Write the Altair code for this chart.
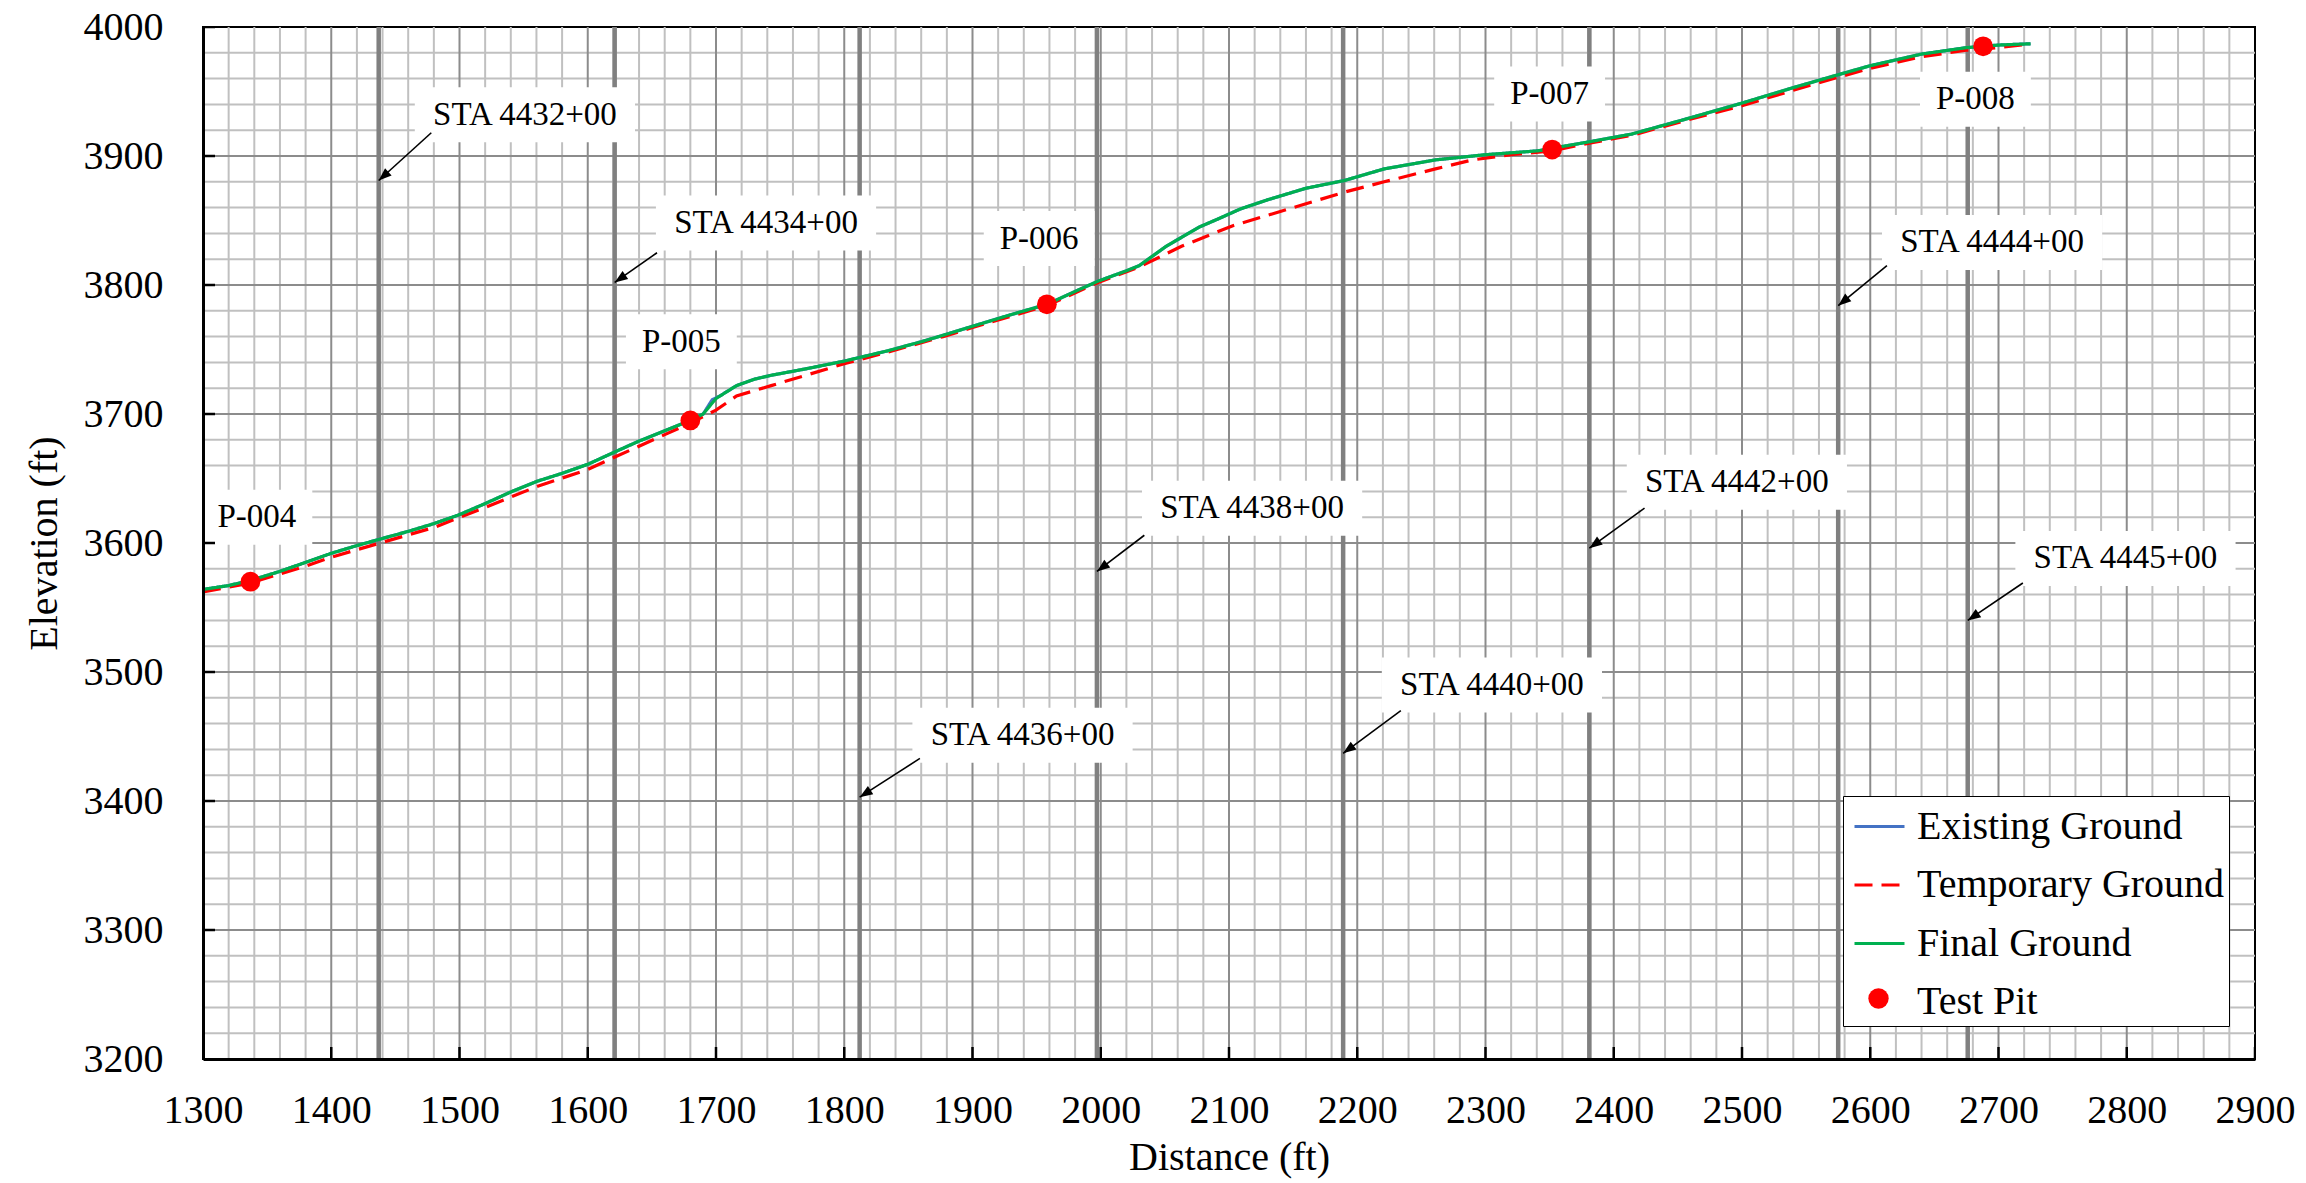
import math
import altair as alt
import pandas as pd

FONT = "Liberation Serif"
X_DOMAIN = [1300, 2900]
Y_DOMAIN = [3200, 4000]
PLOT_W, PLOT_H = 2052, 1032
KX = PLOT_W / (X_DOMAIN[1] - X_DOMAIN[0])
KY = PLOT_H / (Y_DOMAIN[1] - Y_DOMAIN[0])

# ---------------- data ----------------
final_dist = [1300, 1320, 1337, 1360, 1380, 1400, 1420, 1438, 1460, 1480,
              1500, 1521, 1541, 1561, 1580, 1600, 1622, 1640, 1660, 1680,
              1690, 1700, 1716, 1730, 1743, 1770, 1800, 1834, 1860, 1877,
              1900, 1930, 1958, 1980, 1998, 2020, 2030, 2051, 2077, 2091,
              2109, 2130, 2160, 2190, 2221, 2261, 2300, 2341, 2352, 2381,
              2414, 2454, 2500, 2540, 2575, 2600, 2640, 2675, 2700, 2725]
final_elev = [3564, 3567, 3571, 3578, 3585, 3592, 3598, 3603, 3609, 3615,
              3622, 3631, 3640, 3648, 3654, 3661, 3671, 3679, 3687, 3695,
              3700, 3712, 3722, 3727, 3730, 3735, 3741, 3749, 3756, 3761,
              3768, 3777, 3785, 3795, 3803, 3811, 3815, 3830, 3845, 3851,
              3859, 3866, 3875, 3881, 3890, 3897, 3901, 3904, 3906, 3911,
              3917, 3928, 3941, 3953, 3963, 3970, 3979, 3984, 3986, 3987]

exist_dist = [1300, 1320, 1337, 1360, 1380, 1400, 1420, 1438, 1460, 1480,
              1500, 1521, 1541, 1561, 1580, 1600, 1622, 1640, 1660, 1680,
              1690, 1697, 1703, 1716, 1730, 1743, 1770, 1800, 1834, 1860, 1877,
              1900, 1930, 1958, 1980, 1998, 2020, 2030, 2051, 2077, 2091,
              2109, 2130, 2160, 2190, 2221, 2261, 2300, 2341, 2352, 2381,
              2414, 2454, 2500, 2540, 2575, 2600, 2640, 2675, 2700, 2725]
exist_elev = [3564, 3567, 3571, 3578, 3585, 3592, 3598, 3603, 3609, 3615,
              3622, 3631, 3640, 3648, 3654, 3661, 3671, 3679, 3687, 3695,
              3700, 3711, 3714, 3722, 3727, 3730, 3735, 3741, 3749, 3756, 3761,
              3768, 3777, 3785, 3795, 3803, 3811, 3815, 3830, 3845, 3851,
              3859, 3866, 3875, 3881, 3890, 3897, 3901, 3904, 3906, 3911,
              3917, 3928, 3941, 3953, 3963, 3970, 3979, 3984, 3986, 3987]

temp_dist = [1300, 1337, 1360, 1380, 1400, 1438, 1480, 1521, 1561, 1600,
             1622, 1660, 1680, 1700, 1716, 1743, 1770, 1800, 1834, 1877,
             1900, 1958, 1998, 2030, 2063, 2103, 2140, 2160, 2190, 2221,
             2261, 2290, 2320, 2352, 2381, 2414, 2454, 2500, 2540, 2575,
             2600, 2640, 2675, 2700, 2725]
temp_elev = [3562, 3569, 3576, 3582, 3589, 3600, 3612, 3628, 3644, 3657,
             3667, 3684, 3693, 3703, 3714, 3722, 3730, 3739, 3748, 3760,
             3767, 3784, 3802, 3814, 3830, 3846, 3857, 3863, 3872, 3880,
             3890, 3897, 3901, 3904, 3910, 3916, 3927, 3939, 3951, 3961,
             3968, 3977, 3982, 3984, 3987]

pit_names = ["P-004", "P-005", "P-006", "P-007", "P-008"]
pit_dist = [1337, 1680, 1958, 2352, 2688]
pit_elev = [3570, 3695, 3785, 3905, 3985]
pit_label_dist = [1342, 1673, 1952, 2350, 2682]
pit_label_elev = [3620, 3756, 3836, 3948, 3944]

station_names = ["STA 4432+00", "STA 4434+00", "STA 4436+00", "STA 4438+00",
                 "STA 4440+00", "STA 4442+00", "STA 4444+00", "STA 4445+00"]
station_dist = [1437, 1621, 1812, 1997, 2189, 2381, 2575, 2676]
station_label_dist = [1551, 1739, 1939, 2118, 2305, 2496, 2695, 2799]
station_label_elev = [3932, 3848, 3451, 3627, 3490, 3647, 3833, 3588]
arrow_tail_dist = [1478, 1654, 1859, 2034, 2234, 2424, 2613, 2719]
arrow_tail_elev = [3918, 3825, 3433, 3606, 3470, 3627, 3815, 3569]
arrow_head_elev = [3881, 3802, 3403, 3578, 3437, 3596, 3784, 3540]

series_names = ["Existing Ground", "Temporary Ground", "Final Ground", "Test Pit"]
x_tick_values = list(range(1300, 2901, 100))
y_tick_values = list(range(3200, 4001, 100))

# ---------------- styling ----------------
C_EXIST = "#4472C4"
C_TEMP = "#FF0000"
C_FINAL = "#00B050"
C_PIT = "#FF0000"
LABEL_FS = 33
BOX_PAD_X = 16
BOX_H = 55

CHAR_W = {" ": 0.25, "+": 0.564, "-": 0.333, "S": 0.556, "T": 0.611,
          "A": 0.722, "P": 0.556}


def text_width(s, fs):
    return sum(CHAR_W.get(c, 0.5) for c in s) * fs


xs = alt.Scale(domain=X_DOMAIN, nice=False, zero=False)
ys = alt.Scale(domain=Y_DOMAIN, nice=False, zero=False)

AX = alt.Axis(
    values=x_tick_values, title="Distance (ft)", grid=False, ticks=False,
    domain=True, domainColor="black", domainWidth=3, labelFlush=False,
    labelFont=FONT, labelFontSize=40, labelColor="black", labelPadding=31,
    titleFont=FONT, titleFontSize=40, titleFontWeight="normal", titleColor="black",
    titleX=PLOT_W / 2, titleY=98, titleAlign="center", titleBaseline="middle",
    format="d", zindex=1)
AY = alt.Axis(
    values=y_tick_values, title="Elevation (ft)", grid=False, ticks=False,
    domain=True, domainColor="black", domainWidth=3, labelFlush=False,
    labelFont=FONT, labelFontSize=40, labelColor="black", labelPadding=40,
    titleFont=FONT, titleFontSize=40, titleFontWeight="normal", titleColor="black",
    titleX=-159, titleY=PLOT_H / 2, titleAngle=270, titleAlign="center",
    titleBaseline="middle", format="d", zindex=1)


def X(field):
    return alt.X(field, scale=xs, axis=AX)


def Y(field):
    return alt.Y(field, scale=ys, axis=AY)


# ---------------- grid ----------------
minor_x = [v for v in range(1320, 2900, 20) if v % 100]
major_x = [v for v in range(1400, 2900, 100)]
minor_y = [v for v in range(3220, 4000, 20) if v % 100]
major_y = [v for v in range(3300, 4000, 100)]


def vrules(vals, color, width):
    return alt.Chart(pd.DataFrame({"dist": vals})).mark_rule(
        color=color, strokeWidth=width).encode(x=X("dist:Q"))


def hrules(vals, color, width):
    return alt.Chart(pd.DataFrame({"elev": vals})).mark_rule(
        color=color, strokeWidth=width).encode(y=Y("elev:Q"))


grid = [vrules(minor_x, "#C0C0C0", 2), hrules(minor_y, "#C0C0C0", 2),
        vrules(major_x, "#8C8C8C", 2), hrules(major_y, "#8C8C8C", 2)]

station_rules = alt.Chart(pd.DataFrame({"dist": station_dist})).mark_rule(
    color="#808080", strokeWidth=4.5).encode(x=X("dist:Q"))

# ---------------- label boxes ----------------
lab_text = station_names + pit_names
lab_x = station_label_dist + pit_label_dist
lab_y = station_label_elev + pit_label_elev
box_rows = []
for t, x, y in zip(lab_text, lab_x, lab_y):
    hw = (text_width(t, LABEL_FS) / 2 + BOX_PAD_X) / KX
    hh = (BOX_H / 2) / KY
    box_rows.append({"text": t, "dist": x, "elev": y,
                     "x1": x - hw, "x2": x + hw, "y1": y - hh, "y2": y + hh})
box_df = pd.DataFrame(box_rows)

boxes = alt.Chart(box_df).mark_rect(fill="white").encode(
    x=X("x1:Q"), x2="x2:Q", y=Y("y1:Q"), y2="y2:Q")

texts = alt.Chart(box_df).mark_text(
    font=FONT, fontSize=LABEL_FS, color="black", align="center", baseline="middle").encode(
    x=X("dist:Q"), y=Y("elev:Q"), text="text:N")

# ---------------- arrows ----------------
arrow_rows = []
for tx, ty, hx, hy in zip(arrow_tail_dist, arrow_tail_elev, station_dist, arrow_head_elev):
    dx = (hx - tx) * KX
    dy = -(hy - ty) * KY
    ang = math.degrees(math.atan2(dx, -dy)) % 360
    arrow_rows.append({"tx": tx, "ty": ty, "hx": hx, "hy": hy, "angle": ang})
arrow_df = pd.DataFrame(arrow_rows)

arrow_lines = alt.Chart(arrow_df).mark_rule(color="black", strokeWidth=1.6).encode(
    x=X("tx:Q"), y=Y("ty:Q"), x2="hx:Q", y2="hy:Q")

arrow_heads = alt.Chart(arrow_df).mark_point(
    shape="M0,0L0.75,2L-0.75,2Z", filled=True, color="black", size=169,
    strokeWidth=0, opacity=1).encode(
    x=X("hx:Q"), y=Y("hy:Q"), angle=alt.Angle("angle:Q", scale=None))

# ---------------- ticks (inside) ----------------
xticks = alt.Chart(pd.DataFrame({"dist": x_tick_values[1:],
                                 "elev": [Y_DOMAIN[0]] * (len(x_tick_values) - 1)})).mark_tick(
    orient="vertical", size=24, thickness=2.5, color="black", clip=True, opacity=1).encode(
    x=X("dist:Q"), y=Y("elev:Q"))
yticks = alt.Chart(pd.DataFrame({"elev": y_tick_values[1:],
                                 "dist": [X_DOMAIN[0]] * (len(y_tick_values) - 1)})).mark_tick(
    orient="horizontal", size=24, thickness=2.5, color="black", clip=True, opacity=1).encode(
    x=X("dist:Q"), y=Y("elev:Q"))

# ---------------- series lines ----------------
color_scale = alt.Scale(domain=series_names, range=[C_EXIST, C_TEMP, C_FINAL, "rgba(0,0,0,0)"])
dash_scale = alt.Scale(domain=series_names, range=[[1, 0], [18, 9], [1, 0], [1, 0]])

line_legend = alt.Legend(
    title=None, orient="none", legendX=1640, legendY=769,
    labelFont=FONT, labelFontSize=40, labelColor="black", labelLimit=1000,
    labelExpr="datum.label + '\u00a0\u00a0'",
    symbolType="stroke", symbolSize=2500, symbolStrokeWidth=3,
    symbolOffset=6, labelOffset=11, padding=4, rowPadding=11.5,
    fillColor="white", strokeColor="black", zindex=5)


def series_line(name, dist, elev):
    df = pd.DataFrame({"dist": dist, "elev": elev, "series": name})
    return alt.Chart(df).mark_line(strokeWidth=3.2, clip=True).encode(
        x=X("dist:Q"), y=Y("elev:Q"),
        color=alt.Color("series:N", scale=color_scale, legend=line_legend),
        strokeDash=alt.StrokeDash("series:N", scale=dash_scale, legend=line_legend),
        order="dist:Q")


line_exist = series_line("Existing Ground", exist_dist, exist_elev)
line_temp = series_line("Temporary Ground", temp_dist, temp_elev)
line_final = series_line("Final Ground", final_dist, final_elev)

pit_df = pd.DataFrame({"dist": pit_dist, "elev": pit_elev, "pit": "Test Pit", "name": pit_names})
pit_legend = alt.Legend(
    title=None, orient="none", legendX=1665, legendY=961,
    labelExpr="''", labelFontSize=10, symbolType="circle", symbolSize=415,
    symbolStrokeWidth=0, padding=0, strokeColor="rgba(0,0,0,0)", zindex=6)
pits = alt.Chart(pit_df).mark_circle(size=390, opacity=1).encode(
    x=X("dist:Q"), y=Y("elev:Q"),
    fill=alt.Fill("pit:N", scale=alt.Scale(domain=["Test Pit"], range=[C_PIT]), legend=pit_legend))

chart = alt.layer(
    *grid, station_rules, boxes, arrow_lines, arrow_heads,
    line_exist, line_temp, line_final, pits, texts, xticks, yticks
).properties(
    width=PLOT_W, height=PLOT_H,
    autosize=alt.AutoSizeParams(type="none"),
    padding={"left": 203, "top": 27, "right": 51, "bottom": 124},
    background="white",
).configure_view(stroke="black", strokeWidth=2)

chart.save("out.html", embed_options={"renderer": "svg", "actions": False})
